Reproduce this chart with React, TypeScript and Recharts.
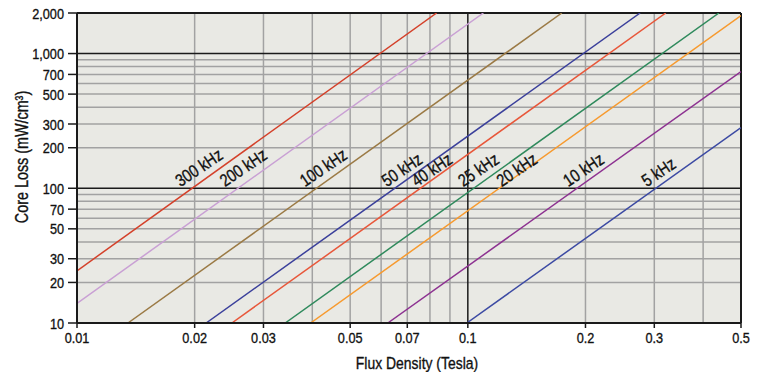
import { LineChart, Line, XAxis, YAxis, CartesianGrid, ReferenceLine, ReferenceDot } from "recharts"

// core loss vs flux density, one straight log-log line per frequency
const frequencies = ["300 kHz", "200 kHz", "100 kHz", "50 kHz", "40 kHz", "25 kHz", "20 kHz", "10 kHz", "5 kHz"]
const fluxStart = [0.01, 0.01, 0.0135, 0.0214, 0.0249, 0.0341, 0.0396, 0.0624, 0.0994]
const lossStart = [24.4, 14, 10, 10, 10, 10, 10, 10, 10]
const fluxEnd = [0.0832, 0.1096, 0.174, 0.276, 0.321, 0.439, 0.5, 0.5, 0.5]
const lossEnd = [2000, 2000, 2000, 2000, 2000, 2000, 1910, 734, 282]
const labelFlux = [0.0184, 0.0239, 0.0383, 0.062, 0.074, 0.0974, 0.1221, 0.1808, 0.287]
const labelLoss = 100

const xTicks = [0.01, 0.02, 0.03, 0.05, 0.07, 0.1, 0.2, 0.3, 0.5]
const yTicks = [10, 20, 30, 50, 70, 100, 200, 300, 500, 700, 1000, 2000]
const xMinorGrid = [0.02, 0.03, 0.04, 0.05, 0.06, 0.07, 0.08, 0.09, 0.2, 0.3, 0.4]
const yMinorGrid = [20, 30, 40, 50, 60, 70, 80, 90, 200, 300, 400, 500, 600, 700, 800, 900]
const xMajorGrid = [0.1]
const yMajorGrid = [100, 1000]

const lineColors = ["#d4412a", "#c9a0d4", "#9b7a45", "#3b409b", "#e8573a", "#2f8a5c", "#f79a2e", "#8d3291", "#3c4aa3"]

// no narrow font installed, so squeeze Liberation Sans horizontally
// and give it a hairline stroke so it reads a bit heavier
const FONT = "'Liberation Sans', Arial, sans-serif"
const SQUEEZE = 0.82
const INK = "#111"
const MINOR = "#a2a2a2"
const MAJOR = "#1a1a1a"
const textInk = { fill: INK, stroke: INK, strokeWidth: 0.35 }

const series = frequencies.map((name, i) => ({
  name,
  points: [
    { x: fluxStart[i], y: lossStart[i] },
    { x: fluxEnd[i], y: lossEnd[i] },
  ],
}))

function FreqLabel({ viewBox, text }: any) {
  const x = viewBox.x + (viewBox.width || 0) / 2
  const y = viewBox.y + (viewBox.height || 0) / 2 - 1
  return (
    <text transform={`translate(${x} ${y}) rotate(-34) scale(${SQUEEZE} 1)`} fontFamily={FONT} fontSize={17.5} {...textInk}>
      {text}
    </text>
  )
}

function XTick({ x, y, payload }: any) {
  return (
    <text transform={`translate(${x} ${y}) scale(${SQUEEZE} 1)`} textAnchor="middle" dy="0.71em" fontFamily={FONT} fontSize={15.5} {...textInk}>
      {String(payload.value)}
    </text>
  )
}

function YTick({ x, y, payload }: any) {
  return (
    <text transform={`translate(${x} ${y}) scale(${SQUEEZE} 1)`} textAnchor="end" dy="0.355em" fontFamily={FONT} fontSize={15.5} {...textInk}>
      {Number(payload.value).toLocaleString("en-US")}
    </text>
  )
}

function XTitle({ viewBox }: any) {
  const x = viewBox.x + viewBox.width / 2 + 8
  const y = viewBox.y + 46
  return (
    <text transform={`translate(${x} ${y}) scale(${SQUEEZE} 1)`} textAnchor="middle" fontFamily={FONT} fontSize={17} {...textInk}>
      Flux Density (Tesla)
    </text>
  )
}

function YTitle({ viewBox }: any) {
  const x = 22
  const y = viewBox.y + viewBox.height / 2 - 11
  return (
    <text
      transform={`translate(${x} ${y}) rotate(-90) scale(${SQUEEZE} 1)`}
      textAnchor="middle"
      dominantBaseline="central"
      fontFamily={FONT}
      fontSize={17.5}
      {...textInk}
    >
      Core Loss (mW/cm³)
    </text>
  )
}

export default function App() {
  return (
    <div style={{ margin: -8, width: 764, height: 380, background: "#fff" }}>
      <LineChart width={764} height={380} margin={{ top: 13, right: 23, bottom: 7, left: 0 }}>
        <CartesianGrid fill="#e9e9e4" horizontal={false} vertical={false} />
        <XAxis
          dataKey="x"
          type="number"
          scale="log"
          domain={[0.01, 0.5]}
          ticks={xTicks}
          interval={0}
          allowDataOverflow
          height={50}
          tickSize={5}
          tickMargin={4}
          tick={<XTick />}
          axisLine={{ stroke: MAJOR, strokeWidth: 2 }}
          tickLine={{ stroke: MAJOR, strokeWidth: 1.5 }}
          label={<XTitle />}
        />
        <YAxis
          dataKey="y"
          type="number"
          scale="log"
          domain={[10, 2000]}
          ticks={yTicks}
          interval={0}
          allowDataOverflow
          width={77}
          tickSize={9}
          tickMargin={4}
          tick={<YTick />}
          axisLine={{ stroke: MAJOR, strokeWidth: 2 }}
          tickLine={{ stroke: MAJOR, strokeWidth: 1.5 }}
          label={<YTitle />}
        />
        {xMinorGrid.map((v) => (
          <ReferenceLine key={`vx${v}`} x={v} stroke={MINOR} strokeWidth={1.5} />
        ))}
        {yMinorGrid.map((v) => (
          <ReferenceLine key={`hy${v}`} y={v} stroke={MINOR} strokeWidth={1.5} />
        ))}
        {xMajorGrid.map((v) => (
          <ReferenceLine key={`VX${v}`} x={v} stroke={MAJOR} strokeWidth={1.5} />
        ))}
        {yMajorGrid.map((v) => (
          <ReferenceLine key={`HY${v}`} y={v} stroke={MAJOR} strokeWidth={1.5} />
        ))}
        <ReferenceLine y={2000} stroke={MAJOR} strokeWidth={2} />
        <ReferenceLine x={0.5} stroke={MAJOR} strokeWidth={2} />
        {series.map((s, i) => (
          <Line
            key={s.name}
            data={s.points}
            dataKey="y"
            stroke={lineColors[i]}
            strokeWidth={1.5}
            dot={false}
            activeDot={false}
            isAnimationActive={false}
          />
        ))}
        {frequencies.map((f, i) => (
          <ReferenceDot
            key={`lbl${f}`}
            x={labelFlux[i]}
            y={labelLoss}
            r={0}
            fill="none"
            stroke="none"
            label={<FreqLabel text={f} />}
          />
        ))}
      </LineChart>
    </div>
  )
}
